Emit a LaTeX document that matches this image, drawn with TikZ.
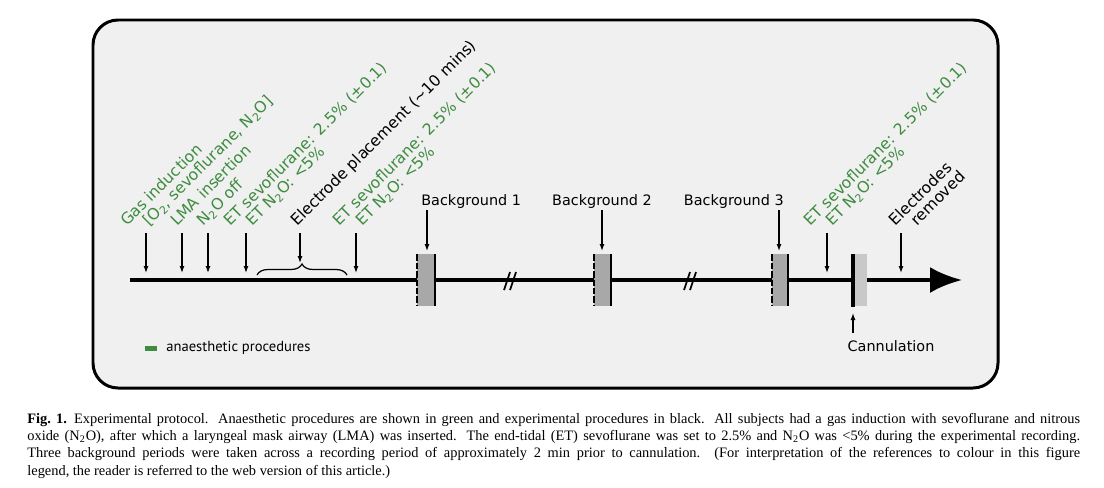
\documentclass[tikz,border=0pt]{standalone}
\usepackage{fontspec}
\setmainfont{Liberation Serif}
\setsansfont{DejaVu Sans}
\newfontfamily\legendfont{PT Sans}
\usepackage{xcolor}
\usetikzlibrary{arrows.meta,decorations.pathreplacing}
\definecolor{anaesgreen}{RGB}{62,140,64}
\definecolor{panelgrey}{RGB}{240,240,240}
\definecolor{bggrey}{RGB}{168,168,168}
\definecolor{cangrey}{RGB}{200,200,200}
\newcommand\labelfont{\sffamily\fontsize{8.2}{9.8}\selectfont}
\newcommand\rotfont{\sffamily\fontsize{8.9}{10.5}\selectfont}
\tikzset{
  lbl/.style={rotate=45,anchor=base west,inner sep=0pt,font=\rotfont},
  anaes/.style={lbl,text=anaesgreen},
  pointer/.style={-{Latex[length=1.4mm,width=1mm]},line width=0.7pt},
  edge/.style={line width=1.1pt},
}

\begin{document}
\begin{tikzpicture}[x=0.02cm,y=-0.02cm]
  \def\couleur{bggrey}
  \useasboundingbox[fill=white] (0,0) rectangle (1104,487);
  \draw[line width=1.7pt,rounded corners=0.5cm,fill=panelgrey] (93,20) rectangle (998,388);
  % time line
  \path[coordinate] (130,280) coordinate(start)
                    (962,280) coordinate(end);
  \draw[line width=2.3pt,-{Latex[length=0.64cm,width=0.52cm]}] (start) -- (end);
  \foreach \x in {510,690}{%
    \draw[line width=1pt] (\x-6,290) -- (\x,272) (\x,290) -- (\x+6,272);
  }
  % background periods
  \foreach \a/\b in {417/435,594/611,772/788}{%
    \fill[\couleur] (\a,254) rectangle (\b,306);
    \draw[edge,dash pattern=on 1.3mm off 0.4mm] (\a,254) -- (\a,306);
    \draw[edge] (\b,254) -- (\b,306);
  }
  % cannulation
  \fill[cangrey] (855,254) rectangle (867,306);
  \fill[black] (851,254) rectangle (855,307);
  % pointers from the labels
  \foreach \x/\n in {146/gas,182/lma,208/nto,246/eta,356/etb,827/etc,901/rem}{%
    \path[coordinate] (\x,233) coordinate(\n top)
                      (\x,273) coordinate(\n bot);
    \draw[pointer] (\n top) -- (\n bot);
  }
  \foreach \x/\n in {427/bga,602/bgb,779/bgc}{%
    \path[coordinate] (\x,210) coordinate(\n top)
                      (\x,251) coordinate(\n bot);
    \draw[pointer] (\n top) -- (\n bot);
  }
  \path[coordinate] (257,275) coordinate(bra)
                    (347,275) coordinate(brb)
                    (300,233) coordinate(elec top)
                    (300,263) coordinate(elec bot)
                    (853,333) coordinate(cann bot)
                    (853,313) coordinate(cann top);
  \draw[line width=0.7pt,decorate,decoration={brace,amplitude=0.22cm}] (bra) -- (brb);
  \draw[pointer] (elec top) -- (elec bot);
  \draw[pointer] (cann bot) -- (cann top);
  % labels
  \node[anaes] (gas1) at (127,227) {Gas induction};
  \node[anaes] (gas2) at (149,227) {[O\textsubscript{2}, sevoflurane, N\textsubscript{2}O]};
  \node[anaes] (lma) at (177,227) {LMA insertion};
  \node[anaes] (nto) at (203,227) {N\textsubscript{2}O off};
  \node[anaes] (eta1) at (230,227) {ET sevoflurane: 2.5\% (±0.1)};
  \node[anaes] (eta2) at (252,227) {ET N\textsubscript{2}O: <5\%};
  \node[lbl] (elec) at (297,227) {Electrode placement (\textasciitilde10 mins)};
  \node[anaes] (etb1) at (339,227) {ET sevoflurane: 2.5\% (±0.1)};
  \node[anaes] (etb2) at (362,227) {ET N\textsubscript{2}O: <5\%};
  \node[anaes] (etc1) at (810,227) {ET sevoflurane: 2.5\% (±0.1)};
  \node[anaes] (etc2) at (832,227) {ET N\textsubscript{2}O: <5\%};
  \node[lbl] (rem1) at (895,227) {Electrodes};
  \node[lbl] (rem2) at (917,227) {removed};
  \node[font=\labelfont,anchor=base west,inner sep=0pt] (bga) at (421,205) {Background 1};
  \node[font=\labelfont,anchor=base,inner sep=0pt] (bgb) at (602,205) {Background 2};
  \node[font=\labelfont,anchor=base east,inner sep=0pt] (bgc) at (784,205) {Background 3};
  \node[font=\labelfont,inner sep=0pt] (cann) at (891,346) {Cannulation};
  % legend
  \fill[anaesgreen] (145,346) rectangle (157,351);
  \node[font=\legendfont\fontsize{8.3}{9.5}\selectfont,anchor=west,inner sep=0pt] (leg) at (166,348) {anaesthetic procedures};
  % caption
  \node[anchor=north west,inner sep=0pt,text width=21.06cm,align=justify,
        font=\fontsize{8.2}{9.8}\selectfont] (cap) at (27,413) {%
    \textbf{Fig.~1.}\enspace Experimental protocol. Anaesthetic procedures are shown in green and experimental procedures in black. All subjects had a gas induction with sevoflurane and nitrous\linebreak
    oxide (N\textsubscript{2}O), after which a laryngeal mask airway (LMA) was inserted. The end-tidal (ET) sevoflurane was set to 2.5\% and N\textsubscript{2}O was <5\% during the experimental recording.\linebreak
    Three background periods were taken across a recording period of approximately 2 min prior to cannulation. (For interpretation of the references to colour in this figure\linebreak
    legend, the reader is referred to the web version of this article.)};
\end{tikzpicture}
\end{document}
